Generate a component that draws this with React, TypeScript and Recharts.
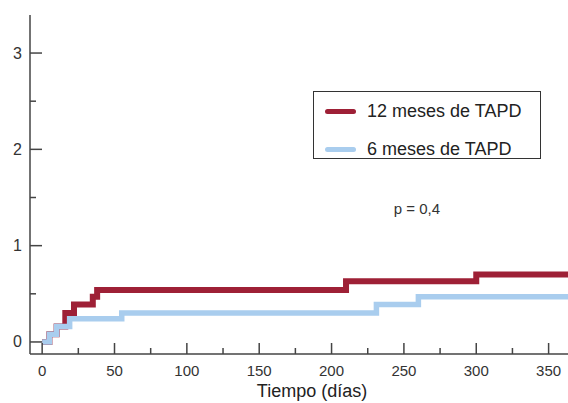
import { LineChart, Line, XAxis, YAxis, Legend, ReferenceDot } from 'recharts'

// Kaplan-Meier style cumulative curves
const days12 = [0, 5, 10, 16, 22, 35, 38, 210, 300, 365]
const values12 = [0, 0.08, 0.16, 0.3, 0.39, 0.47, 0.54, 0.63, 0.7, 0.7]
const days6 = [0, 5, 10, 19, 55, 231, 260, 365]
const values6 = [0, 0.08, 0.16, 0.24, 0.3, 0.39, 0.47, 0.47]

const xTicks = [0, 25, 50, 75, 100, 125, 150, 175, 200, 225, 250, 275, 300, 325, 350]
const yTicks = [0, 0.5, 1, 1.5, 2, 2.5, 3]

const seriesNames = ['12 meses de TAPD', '6 meses de TAPD']
const pText = 'p = 0,4'
const xTitle = 'Tiempo (días)'

const RED = '#9e2036'
const BLUE = '#a9cdee'
const AXIS = '#444'
const FONT = '"Liberation Sans", Arial, sans-serif'

const data12 = days12.map((d, i) => ({ day: d, value: values12[i] }))
const data6 = days6.map((d, i) => ({ day: d, value: values6[i] }))

function XTick({ x, y, payload }: any) {
  const major = payload.value % 50 === 0
  return (
    <g>
      <line x1={x} x2={x} y1={y} y2={y - (major ? 11 : 6)} stroke={AXIS} strokeWidth={1.5} />
      {major && (
        <text x={x} y={y + 22} textAnchor="middle" fontSize={15} fill="#333" fontFamily={FONT}>
          {payload.value}
        </text>
      )}
    </g>
  )
}

function YTick({ x, y, payload }: any) {
  const major = payload.value % 1 === 0
  return (
    <g>
      <line x1={x} x2={x + (major ? 12 : 6)} y1={y} y2={y} stroke={AXIS} strokeWidth={1.5} />
      {major && (
        <text x={x - 8} y={y + 5.5} textAnchor="end" fontSize={16} fill="#333" fontFamily={FONT}>
          {payload.value}
        </text>
      )}
    </g>
  )
}

function LegendBox() {
  const colors = [RED, BLUE]
  return (
    <div
      style={{
        border: '1.5px solid #333',
        width: 228,
        height: 68,
        boxSizing: 'border-box',
        fontFamily: FONT,
        fontSize: 18,
        color: '#222',
        padding: '4px 0 0 11px',
      }}
    >
      {seriesNames.map((name, i) => (
        <div key={name} style={{ display: 'flex', alignItems: 'center', height: 30, marginBottom: i === 0 ? 8 : 0 }}>
          <span style={{ width: 31, height: 5, borderRadius: 3, background: colors[i], marginRight: 11 }} />
          <span>{name}</span>
        </div>
      ))}
    </div>
  )
}

export default function App() {
  return (
    <div style={{ position: 'absolute', left: 0, top: 0, width: 568, height: 403, background: '#fff' }}>
      <LineChart width={568} height={403} margin={{ top: 15, right: 0, bottom: 0, left: 0 }}>
        <XAxis
          dataKey="day"
          type="number"
          domain={[-8.4, 363.4]}
          allowDataOverflow
          ticks={xTicks}
          interval={0}
          tickSize={0}
          tickMargin={0}
          tick={<XTick />}
          height={49}
          stroke={AXIS}
          strokeWidth={1.5}
          label={({ viewBox }: any) => (
            <text
              x={viewBox.x + viewBox.width / 2 + 13}
              y={397}
              textAnchor="middle"
              fontSize={18}
              fill="#222"
              fontFamily={FONT}
            >
              {xTitle}
            </text>
          )}
        />
        <YAxis
          type="number"
          domain={[-0.125, 3.395]}
          allowDataOverflow
          ticks={yTicks}
          interval={0}
          tickSize={0}
          tickMargin={0}
          tick={<YTick />}
          width={30}
          stroke={AXIS}
          strokeWidth={1.5}
        />
        <Legend
          layout="vertical"
          align="center"
          verticalAlign="middle"
          wrapperStyle={{ position: 'absolute', left: 313, top: 91, width: 230, height: 70 }}
          content={() => <LegendBox />}
        />
        <ReferenceDot
          x={259}
          y={1.38}
          r={0}
          fill="none"
          stroke="none"
          label={{ value: pText, position: 'center', fontSize: 15, fill: '#333', fontFamily: FONT }}
        />
        <Line
          data={data12}
          dataKey="value"
          type="stepAfter"
          stroke={RED}
          strokeWidth={6}
          dot={false}
          isAnimationActive={false}
        />
        <Line
          data={data6}
          dataKey="value"
          type="stepAfter"
          stroke={BLUE}
          strokeWidth={5.5}
          dot={false}
          isAnimationActive={false}
        />
      </LineChart>
    </div>
  )
}
